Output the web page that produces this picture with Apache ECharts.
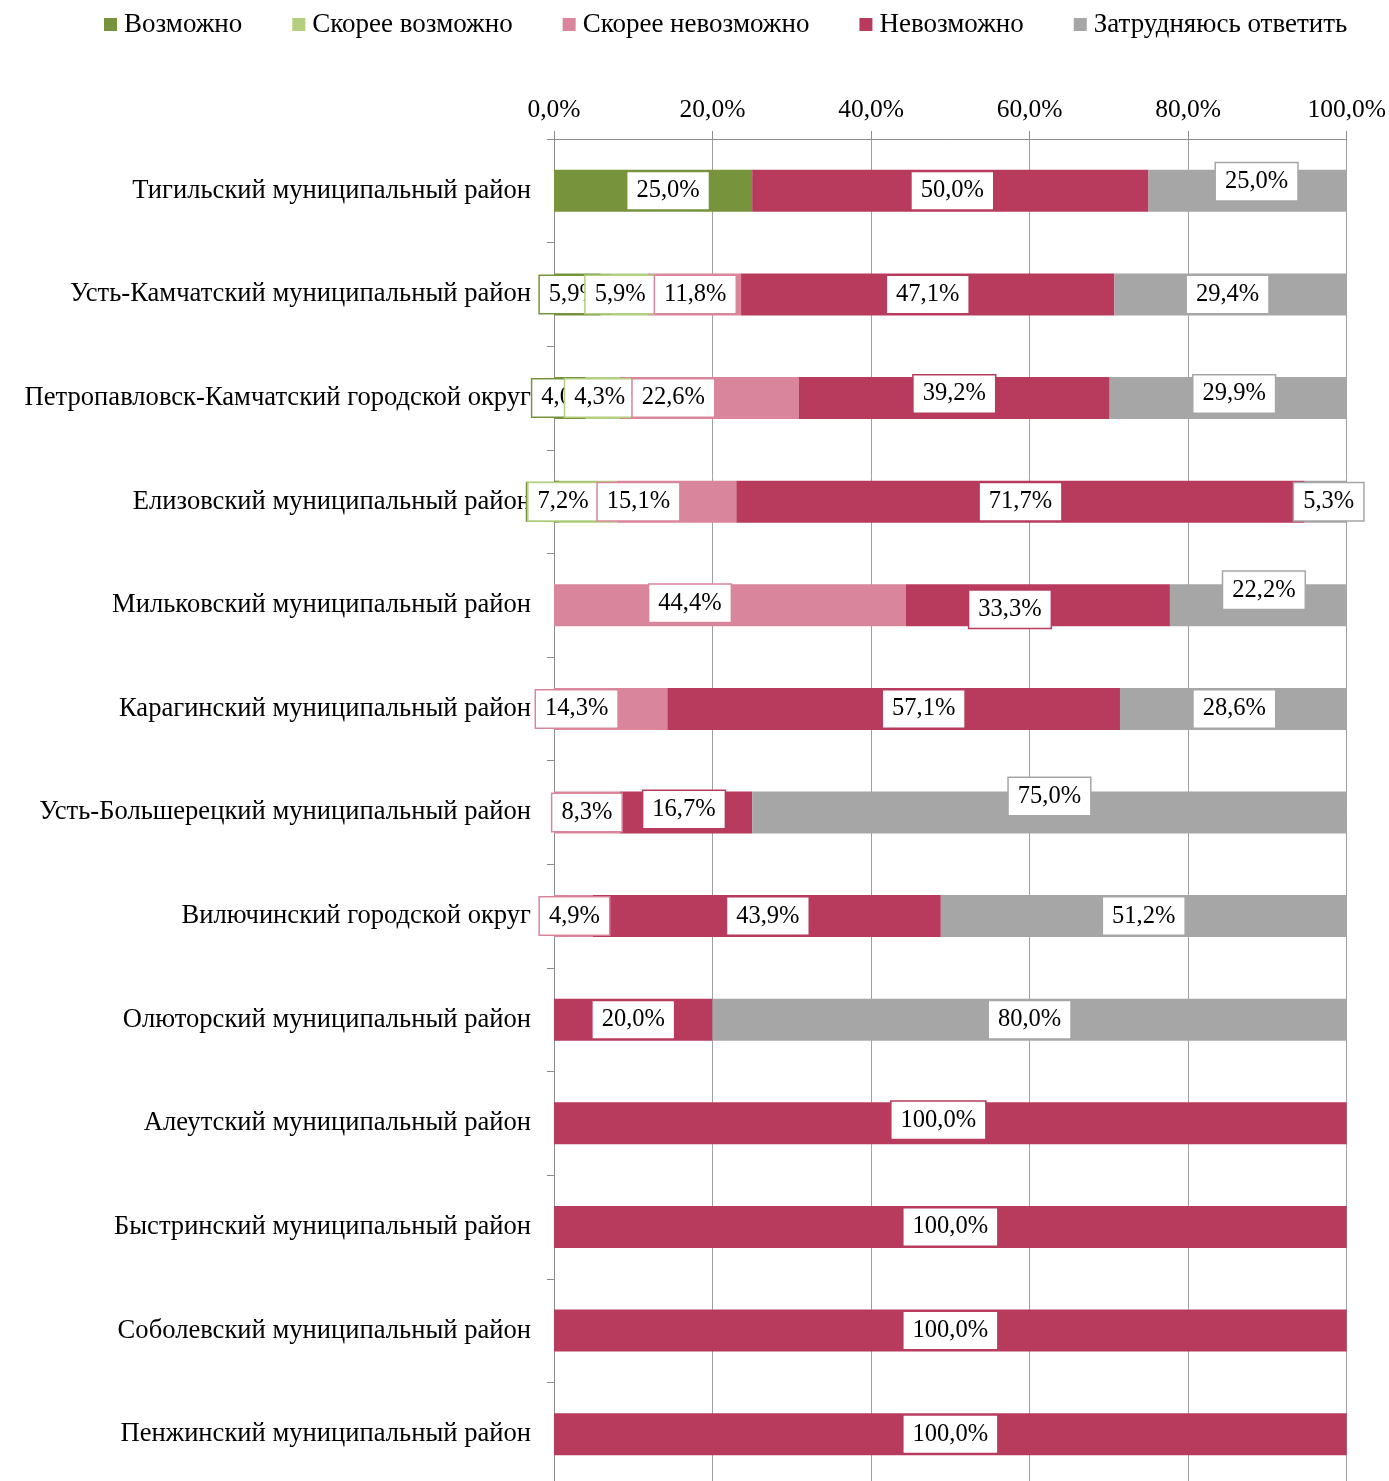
<!DOCTYPE html>
<html>
<head>
<meta charset="utf-8">
<script src="https://cdn.jsdelivr.net/npm/echarts@6/dist/echarts.min.js"></script>
<style>html,body{margin:0;padding:0;background:#fff;overflow:hidden}#c{width:1389px;height:1492px}</style>
</head>
<body>
<div id="c"></div>
<script>
const categories = [
  'Тигильский муниципальный район',
  'Усть-Камчатский муниципальный район',
  'Петропавловск-Камчатский городской округ',
  'Елизовский муниципальный район',
  'Мильковский муниципальный район',
  'Карагинский муниципальный район',
  'Усть-Большерецкий муниципальный район',
  'Вилючинский городской округ',
  'Олюторский муниципальный район',
  'Алеутский муниципальный район',
  'Быстринский муниципальный район',
  'Соболевский муниципальный район',
  'Пенжинский муниципальный район'
];
const seriesNames = ['Возможно','Скорее возможно','Скорее невозможно','Невозможно','Затрудняюсь ответить'];
const possible        = [25.0, 5.9, 4.0, 0.7, 0, 0, 0, 0, 0, 0, 0, 0, 0];
const ratherPossible  = [0, 5.9, 4.3, 7.2, 0, 0, 0, 0, 0, 0, 0, 0, 0];
const ratherImpossible= [0, 11.8, 22.6, 15.1, 44.4, 14.3, 8.3, 4.9, 0, 0, 0, 0, 0];
const impossible      = [50.0, 47.1, 39.2, 71.7, 33.3, 57.1, 16.7, 43.9, 20.0, 100.0, 100.0, 100.0, 100.0];
const hardToSay       = [25.0, 29.4, 29.9, 5.3, 22.2, 28.6, 75.0, 51.2, 80.0, 0, 0, 0, 0];
const xTicks = [0, 20, 40, 60, 80, 100];

const colors = ['#77933C','#B3CF7F','#D9869D','#B83B5E','#A6A6A6'];
// label nudges [dx, dy] per series per category (to mimic manual placement)
const nudges = [
  [[15,0],[-3,0],[-3,0],[5,0],[0,0],[0,0],[0,0],[0,0],[0,0],[0,0],[0,0],[0,0],[0,0]],
  [[0,0],[-4,0],[-3,0],[-25,0],[0,0],[0,0],[0,0],[0,0],[0,0],[0,0],[0,0],[0,0],[0,0]],
  [[0,0],[1,0],[-36,0],[-38,0],[-40,-2],[-34,0],[0,0],[1,0],[0,0],[0,0],[0,0],[0,0],[0,0]],
  [[2,0],[0,0],[0,-4],[0,0],[-28,4],[30,0],[-2,-3],[1,0],[0,0],[-12,-3],[0,0],[0,0],[0,0]],
  [[9,-9],[-3,0],[6,-4],[3,0],[6,-15],[1,0],[0,-16],[0,0],[0,0],[0,0],[0,0],[0,0],[0,0]]
];
const values = [possible, ratherPossible, ratherImpossible, impossible, hardToSay];
const FONT = '"Liberation Serif", "Times New Roman", serif';
const fmt = v => v.toFixed(1).replace('.', ',') + '%';

const series = seriesNames.map((name, si) => ({
  name,
  type: 'bar',
  stack: 'total',
  barWidth: 42,
  itemStyle: { color: colors[si] },
  label: {
    show: true,
    position: 'inside',
    formatter: p => fmt(p.value),
    fontFamily: FONT,
    fontSize: 24.5,
    color: '#000',
    backgroundColor: '#fff',
    borderColor: colors[si],
    borderWidth: 1.5,
    padding: [6, 9, 5, 9],
    lineHeight: 26
  },
  data: values[si].map((v, ci) => ({
    value: v,
    label: { show: v > 0, offset: nudges[si][ci] }
  }))
}));

const chart = echarts.init(document.getElementById('c'), null, { renderer: 'canvas' });
chart.setOption({
  animation: false,
  backgroundColor: '#fff',
  textStyle: { fontFamily: FONT },
  legend: {
    data: seriesNames,
    top: 6,
    left: 99,
    icon: 'rect',
    itemWidth: 13,
    itemHeight: 13,
    itemGap: 50,
    textStyle: { fontFamily: FONT, fontSize: 27, color: '#000', padding: [0, 0, 0, 2] }
  },
  grid: { left: 554, right: 39, top: 139, height: 1347, containLabel: false },
  xAxis: {
    type: 'value',
    position: 'top',
    min: xTicks[0],
    max: xTicks[xTicks.length - 1],
    interval: 20,
    axisLine: { show: true, lineStyle: { color: '#8c8c8c', width: 1 } },
    axisTick: { show: true, length: 8, lineStyle: { color: '#8c8c8c' } },
    axisLabel: { formatter: v => fmt(v), fontFamily: FONT, fontSize: 25.5, color: '#000', margin: 16 },
    splitLine: { show: true, lineStyle: { color: '#a0a0a0', width: 1 } }
  },
  yAxis: {
    type: 'category',
    inverse: true,
    data: categories,
    axisLine: { show: true, lineStyle: { color: '#8c8c8c', width: 1 } },
    axisTick: { show: true, length: 7, lineStyle: { color: '#8c8c8c' } },
    axisLabel: { fontFamily: FONT, fontSize: 26.6, color: '#000', margin: 23 }
  },
  series
});
</script>
</body>
</html>
